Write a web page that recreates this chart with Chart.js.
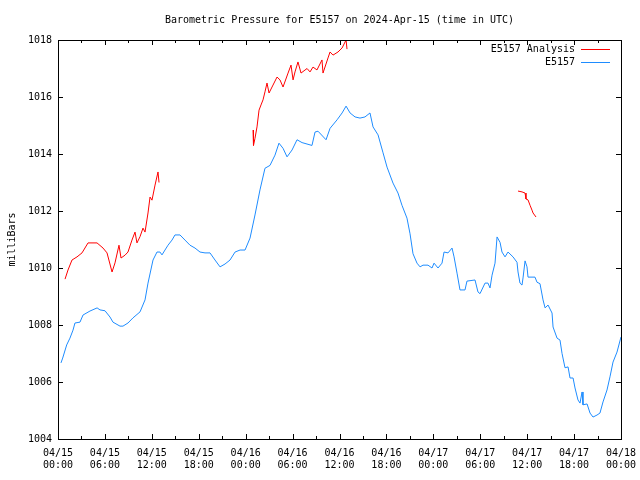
<!DOCTYPE html>
<html>
<head>
<meta charset="utf-8">
<script src="https://cdn.jsdelivr.net/npm/chart.js@4/dist/chart.umd.min.js"></script>
<style>
  html, body { margin: 0; padding: 0; background: #fff; }
  #wrap { width: 640px; height: 480px; }
</style>
</head>
<body>
<div id="wrap"><canvas id="pressureChart" width="640" height="480"></canvas></div>
<script>
// hours since 04/15 00:00 UTC
const stationHours = [0.38, 0.6, 1.11, 1.53, 1.92, 2.17, 2.81, 3.2, 4.09, 5.0, 5.37, 6.01, 6.65, 7.03, 7.93, 8.31, 8.95, 9.59, 10.49, 11.13, 11.51, 12.15, 12.66, 13.04, 13.3, 13.68, 14.07, 14.58, 14.96, 15.6, 16.24, 16.88, 17.52, 18.16, 18.8, 19.44, 20.08, 20.72, 21.36, 22.0, 22.64, 23.28, 23.92, 24.56, 25.19, 25.83, 26.47, 27.11, 27.75, 28.26, 28.78, 29.29, 29.93, 30.57, 31.21, 32.48, 32.87, 33.25, 34.28, 34.79, 35.69, 36.33, 36.84, 37.35, 37.99, 38.62, 39.26, 39.9, 40.29, 40.93, 41.57, 42.08, 42.84, 43.48, 43.99, 44.63, 45.02, 45.4, 45.91, 46.3, 46.68, 47.32, 47.83, 48.09, 48.6, 49.11, 49.37, 49.88, 50.39, 50.65, 51.03, 51.41, 52.05, 52.3, 53.33, 53.71, 53.97, 54.61, 54.99, 55.25, 55.51, 55.89, 56.15, 56.53, 56.78, 57.17, 57.55, 58.19, 58.7, 58.83, 59.08, 59.34, 59.47, 59.73, 59.98, 60.11, 60.62, 61.0, 61.26, 61.64, 62.03, 62.29, 62.67, 63.18, 63.31, 63.82, 64.2, 64.46, 64.84, 65.23, 65.48, 65.87, 66.12, 66.5, 66.76, 67.02, 67.14, 67.66, 68.04, 68.42, 68.93, 69.31, 69.7, 70.21, 70.59, 70.98, 71.49, 72.0];
const stationPressure = [1006.67, 1006.84, 1007.3, 1007.54, 1007.82, 1008.07, 1008.1, 1008.35, 1008.49, 1008.6, 1008.53, 1008.5, 1008.28, 1008.1, 1007.96, 1007.96, 1008.07, 1008.25, 1008.46, 1008.88, 1009.47, 1010.28, 1010.56, 1010.56, 1010.46, 1010.63, 1010.8, 1010.98, 1011.16, 1011.16, 1010.98, 1010.8, 1010.7, 1010.56, 1010.53, 1010.53, 1010.28, 1010.04, 1010.14, 1010.28, 1010.56, 1010.63, 1010.63, 1011.05, 1011.86, 1012.74, 1013.5, 1013.6, 1013.96, 1014.38, 1014.2, 1013.9, 1014.14, 1014.5, 1014.4, 1014.3, 1014.77, 1014.8, 1014.5, 1014.9, 1015.2, 1015.44, 1015.68, 1015.44, 1015.3, 1015.26, 1015.3, 1015.44, 1014.95, 1014.67, 1014.04, 1013.54, 1012.98, 1012.63, 1012.2, 1011.75, 1011.2, 1010.5, 1010.17, 1010.04, 1010.1, 1010.1, 1010.0, 1010.17, 1010.0, 1010.17, 1010.56, 1010.53, 1010.7, 1010.39, 1009.82, 1009.23, 1009.23, 1009.54, 1009.58, 1009.16, 1009.1, 1009.47, 1009.47, 1009.3, 1009.75, 1010.17, 1011.09, 1010.9, 1010.56, 1010.39, 1010.56, 1010.39, 1010.2, 1009.86, 1009.47, 1009.4, 1009.65, 1010.25, 1010.04, 1009.68, 1009.68, 1009.68, 1009.5, 1009.45, 1008.88, 1008.6, 1008.7, 1008.42, 1007.93, 1007.54, 1007.47, 1007.0, 1006.5, 1006.53, 1006.14, 1006.14, 1005.79, 1005.37, 1005.26, 1005.65, 1005.2, 1005.23, 1004.91, 1004.77, 1004.84, 1004.91, 1005.3, 1005.72, 1006.18, 1006.7, 1007.05, 1007.58];

// analysis runs, null = gap between runs
const analysisHours = [0.9, 1.28, 1.79, 2.43, 3.07, 3.84, 4.99, 5.76, 6.27, 6.91, 7.29, 7.8, 8.06, 8.57, 8.95, 9.46, 9.85, 10.1, 10.49, 10.87, 11.13, 11.51, 11.77, 12.02, 12.41, 12.79, 12.92,
  18.0,
  24.94, 25.0, 25.19, 25.45, 25.71, 25.96, 26.22, 26.47, 26.73, 26.99, 27.5, 28.01, 28.39, 28.78, 29.42, 29.8, 30.06, 30.31, 30.69, 31.08, 31.85, 32.23, 32.61, 33.12, 33.76, 33.89, 34.53, 34.79, 35.17, 35.81, 36.33, 36.84, 36.96,
  48.0,
  58.83, 59.34, 59.73, 59.85, 60.11, 60.37, 60.62, 60.75, 61.13];
const analysisPressure = [1009.61, 1009.93, 1010.28, 1010.39, 1010.53, 1010.88, 1010.88, 1010.7, 1010.53, 1009.86, 1010.18, 1010.8, 1010.35, 1010.45, 1010.56, 1010.98, 1011.26, 1010.88, 1011.1, 1011.4, 1011.26, 1011.93, 1012.49, 1012.38, 1012.91, 1013.37, 1013.0,
  null,
  1014.84, 1014.3, 1014.55, 1014.95, 1015.54, 1015.72, 1015.9, 1016.18, 1016.49, 1016.14, 1016.42, 1016.7, 1016.6, 1016.35, 1016.84, 1017.12, 1016.6, 1016.88, 1017.23, 1016.84, 1017.0, 1016.88, 1017.05, 1016.95, 1017.3, 1016.84, 1017.37, 1017.58, 1017.47, 1017.58, 1017.72, 1018.0, 1017.68,
  null,
  1012.7, 1012.67, 1012.63, 1012.42, 1012.39, 1012.2, 1012.03, 1011.93, 1011.79];

const tickDates = ['04/15', '04/15', '04/15', '04/15', '04/16', '04/16', '04/16', '04/16', '04/17', '04/17', '04/17', '04/17', '04/18'];
const tickTimes = ['00:00', '06:00', '12:00', '18:00', '00:00', '06:00', '12:00', '18:00', '00:00', '06:00', '12:00', '18:00', '00:00'];

const FONT = "'DejaVu Sans Mono', 'Liberation Mono', monospace";
const RED = 'rgb(255, 0, 0)';
const BLUE = 'rgb(30, 140, 255)';

// gnuplot-ish frame: box, inward ticks, title, legend text left of sample line
const framePlugin = {
    id: 'frame',
    afterDatasetsDraw(chart) {
        const c = chart.ctx;
        const a = chart.chartArea;
        const xs = chart.scales.x, ys = chart.scales.y;
        c.save();
        c.strokeStyle = '#000';
        c.lineWidth = 1;
        c.strokeRect(Math.round(a.left) + 0.5, Math.round(a.top) + 0.5,
                     Math.round(a.right - a.left), Math.round(a.bottom - a.top));

        c.beginPath();
        for (let h = 0; h <= 72; h += 3) {
            const px = Math.round(xs.getPixelForValue(h)) + 0.5;
            const len = (h % 6 === 0) ? 5 : 3;
            c.moveTo(px, a.bottom); c.lineTo(px, a.bottom - len);
            c.moveTo(px, a.top); c.lineTo(px, a.top + len);
        }
        for (let v = 1004; v <= 1018; v += 2) {
            const py = Math.round(ys.getPixelForValue(v)) + 0.5;
            c.moveTo(a.left, py); c.lineTo(a.left + 5, py);
            c.moveTo(a.right, py); c.lineTo(a.right - 5, py);
        }
        c.stroke();

        // title
        c.fillStyle = '#000';
        c.font = '10px ' + FONT;
        c.textAlign = 'center';
        c.textBaseline = 'middle';
        c.fillText('Barometric Pressure for E5157 on 2024-Apr-15 (time in UTC)', (a.left + a.right) / 2, 20);

        // legend
        c.textAlign = 'right';
        const colors = [RED, BLUE];
        const labels = ['E5157 Analysis', 'E5157'];
        const rows = [49, 62];
        for (let i = 0; i < 2; i++) {
            c.fillStyle = '#000';
            c.fillText(labels[i], 575, rows[i]);
            c.fillStyle = colors[i];
            c.fillRect(581, rows[i], 29, 1);
        }
        c.restore();
    }
};

const ctx = document.getElementById('pressureChart').getContext('2d');
Chart.defaults.font.family = FONT;
Chart.defaults.font.size = 10;
Chart.defaults.color = '#000';

new Chart(ctx, {
    type: 'line',
    data: {
        datasets: [
            {
                label: 'E5157 Analysis',
                data: analysisHours.map((h, i) => ({ x: h, y: analysisPressure[i] })),
                borderColor: RED,
                borderWidth: 1,
                pointRadius: 0,
                tension: 0,
                spanGaps: false
            },
            {
                label: 'E5157',
                data: stationHours.map((h, i) => ({ x: h, y: stationPressure[i] })),
                borderColor: BLUE,
                borderWidth: 1,
                pointRadius: 0,
                tension: 0
            }
        ]
    },
    options: {
        responsive: false,
        animation: false,
        devicePixelRatio: 1,
        layout: { padding: { left: 0, right: 19, top: 40, bottom: 0 } },
        plugins: {
            legend: { display: false },
            title: { display: false },
            tooltip: { enabled: false }
        },
        scales: {
            x: {
                type: 'linear',
                min: 0,
                max: 72,
                grid: { display: false, drawTicks: false },
                border: { display: false },
                afterFit: s => { s.height = 41; s.paddingLeft = 0; s.paddingRight = 0; },
                afterBuildTicks: s => {
                    s.ticks = tickDates.map((d, i) => ({ value: i * 6 }));
                },
                ticks: {
                    padding: 8,
                    maxRotation: 0,
                    autoSkip: false,
                    callback: (v) => [tickDates[v / 6], tickTimes[v / 6]]
                }
            },
            y: {
                min: 1004,
                max: 1018,
                grid: { display: false, drawTicks: false },
                border: { display: false },
                afterFit: s => { s.width = 58; s.paddingTop = 0; s.paddingBottom = 0; },
                ticks: { stepSize: 2, padding: 6, callback: v => String(v) },
                title: { display: true, text: 'milliBars', padding: { top: 6, bottom: 0 } }
            }
        }
    },
    plugins: [framePlugin]
});
</script>
</body>
</html>
